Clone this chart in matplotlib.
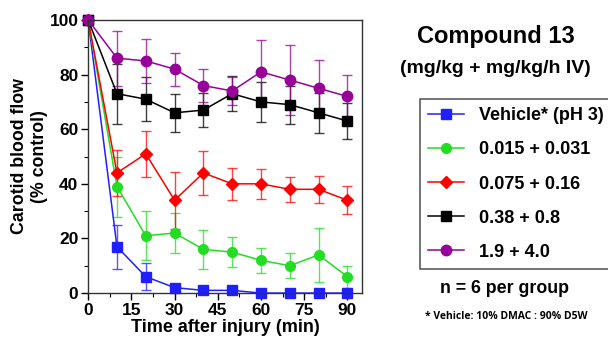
#!/usr/bin/env python3
# Carotid blood flow after injury, compound 13 dose groups

import matplotlib
matplotlib.use('Agg')
from matplotlib import pyplot as plt
from matplotlib.ticker import MultipleLocator

plt.rcParams['font.family'] = ['Liberation Sans', 'DejaVu Sans']
plt.rcParams['font.weight'] = 'bold'

times = [0, 10, 20, 30, 40, 50, 60, 70, 80, 90]

vehicle = [100, 17, 6, 2, 1, 1, 0, 0, 0, 0]
vehicle_err = [0, 8, 5, 1, 0.5, 0.5, 0, 0, 0, 0]

dose1 = [100, 39, 21, 22, 16, 15, 12, 10, 14, 6]
dose1_err = [0, 11, 9, 7.5, 7, 5.5, 4.5, 4.5, 10, 4]

dose2 = [100, 44, 51, 34, 44, 40, 40, 38, 38, 34]
dose2_err = [0, 8.5, 8.5, 10.5, 8, 5.8, 5.6, 4.5, 5, 5.2]

dose3 = [100, 73, 71, 66, 67, 73, 70, 69, 66, 63]
dose3_err = [0, 11, 8, 7, 6.3, 6.5, 7.4, 7, 7.4, 6.6]

dose4 = [100, 86, 85, 82, 76, 74, 81, 78, 75, 72]
dose4_err = [0, 10, 8.2, 6, 6, 5, 11.5, 12.8, 10.5, 8]

labels = ['Vehicle* (pH 3)', '0.015 + 0.031', '0.075 + 0.16', '0.38 + 0.8', '1.9 + 4.0']

series = [
    (vehicle, vehicle_err, '#1f1fff', 's', 7),
    (dose1, dose1_err, '#22dd22', 'o', 7),
    (dose2, dose2_err, '#ff0000', 'D', 6.5),
    (dose3, dose3_err, '#000000', 's', 7),
    (dose4, dose4_err, '#990099', 'o', 7.5),
]

fig = plt.figure(figsize=(6.08, 3.44), dpi=100)
ax = fig.add_axes([0.145, 0.148, 0.45, 0.794])

handles = []
for (vals, errs, col, mk, ms), lab in zip(series, labels):
    eb = ax.errorbar(times, vals, yerr=errs, color=col, marker=mk, markersize=ms,
                     linewidth=1.1, elinewidth=1.0, capsize=3.5, capthick=1.0,
                     ecolor=col, clip_on=False, label=lab)
    for c in eb[1]:
        c.set_alpha(0.75)
        c.set_clip_on(False)
    for c in eb[2]:
        c.set_alpha(0.75)
        c.set_clip_on(False)
    handles.append(eb[0])

ax.set_xlim(0, 95)
ax.set_ylim(0, 100)
ax.set_xticks([0, 15, 30, 45, 60, 75, 90])
ax.set_yticks([0, 20, 40, 60, 80, 100])
ax.xaxis.set_minor_locator(MultipleLocator(7.5))
ax.yaxis.set_minor_locator(MultipleLocator(10))
ax.tick_params(which='both', direction='out', top=False, right=False)
ax.tick_params(which='major', length=5, width=1, labelsize=12.5, pad=2)
ax.tick_params(which='minor', length=3, width=0.8)
for s in ax.spines.values():
    s.set_linewidth(1.0)
    s.set_color('#333333')

ax.set_xlabel('Time after injury (min)', fontsize=13, fontweight='bold', labelpad=1)
ax.set_ylabel('Carotid blood flow\n(% control)', fontsize=12.8, fontweight='bold',
              labelpad=1, linespacing=1.25)

fig.text(0.815, 0.895, 'Compound 13', ha='center', va='center', fontsize=17, fontweight='bold')
fig.text(0.815, 0.800, '(mg/kg + mg/kg/h IV)', ha='center', va='center', fontsize=14,
         fontweight='bold')

leg = fig.legend(handles, labels, loc='upper left', bbox_to_anchor=(0.691, 0.712),
                 prop={'size': 13, 'weight': 'bold'}, frameon=True, fancybox=False,
                 edgecolor='#333333', handlelength=2.0, handletextpad=0.8,
                 labelspacing=0.95, borderpad=0.45, borderaxespad=0)
leg.get_frame().set_linewidth(1.2)

fig.text(0.83, 0.16, 'n = 6 per group', ha='center', va='center', fontsize=12.8, fontweight='bold')
fig.text(0.833, 0.081, '* Vehicle: 10% DMAC : 90% D5W', ha='center', va='center', fontsize=7.5,
         fontweight='bold', family=['Open Sans', 'DejaVu Sans'])

plt.savefig('out.png', dpi=100)
